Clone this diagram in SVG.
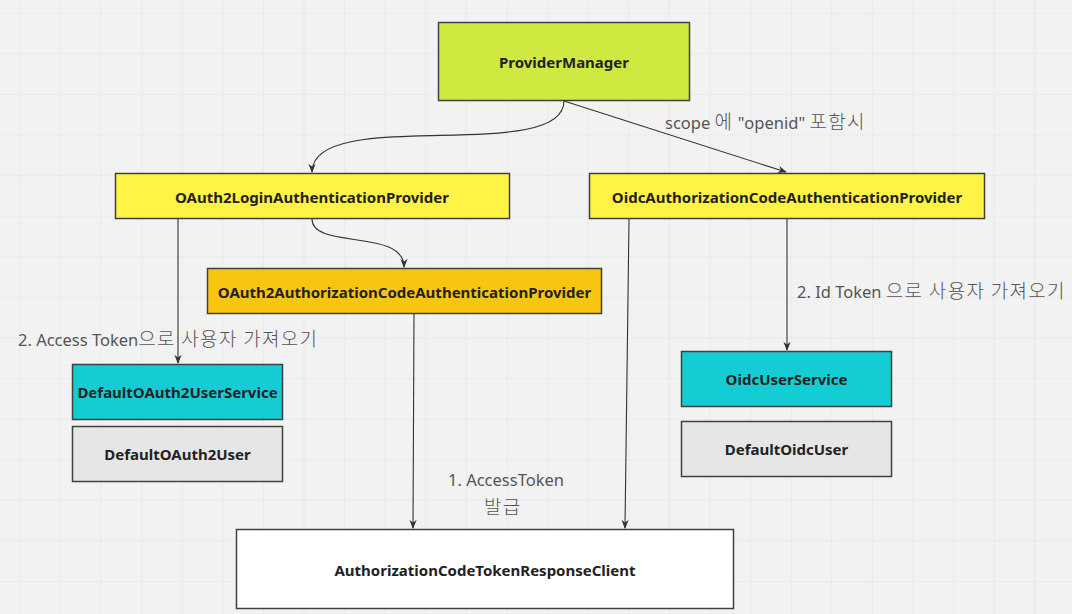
<svg xmlns="http://www.w3.org/2000/svg" width="1072" height="614" viewBox="0 0 1072 614">
<defs>
<pattern id="grid" x="19.3" y="12.7" width="40.6" height="40.6" patternUnits="userSpaceOnUse">
<path d="M0,0 H40.6 M0,0 V40.6" fill="none" stroke="#e4e4e4" stroke-width="1.2"/>
</pattern>
<marker id="arr" viewBox="0 0 10 10" refX="9" refY="5" markerWidth="9" markerHeight="9" markerUnits="userSpaceOnUse" orient="auto">
<path d="M0,1 L10,5 L0,9 L3,5 Z" fill="#333"/>
</marker>
<style>
.box{stroke:#404040;stroke-width:1.5}
.t{font-family:"Noto Sans","Open Sans",sans-serif;font-weight:bold;font-size:15px;fill:#222;text-anchor:middle;dominant-baseline:central}
.lbl{font-family:"Noto Sans","Noto Sans CJK KR",sans-serif;font-size:16.5px;fill:#555}
.k{font-family:"Noto Sans CJK KR",sans-serif;font-size:19px;font-weight:300;letter-spacing:1.3px}
.c{fill:none;stroke:#333;stroke-width:1.1;marker-end:url(#arr)}
</style>
</defs>
<rect width="1072" height="614" fill="#f2f2f2"/>
<rect width="1072" height="614" fill="url(#grid)"/>

<g id="connectors">
<path class="c" d="M564,101 C564,165 312,105 312,172"/>
<path class="c" d="M564,101 L786,172"/>
<path class="c" d="M312,219 C312,250 404,228 404,267"/>
<path class="c" d="M178,219 L178,363"/>
<path class="c" d="M414,314 L413,528"/>
<path class="c" d="M629,219 L625,528"/>
<path class="c" d="M787,219 L787,350"/>
</g>

<g id="labels">
<text class="lbl" x="665" y="129">scope <tspan class="k">에</tspan> "openid" <tspan class="k">포함시</tspan></text>
<text class="lbl" x="18" y="346">2. Access Token<tspan class="k">으로 사용자 가져오기</tspan></text>
<text class="lbl" x="797" y="298">2. Id Token <tspan class="k">으로 사용자 가져오기</tspan></text>
<text class="lbl" x="448" y="486">1. AccessToken</text>
<text class="lbl" x="484" y="514"><tspan class="k">발급</tspan></text>
</g>

<g id="ProviderManager">
<rect class="box" x="438.5" y="22.5" width="251" height="78" fill="#d0e940"/>
<text class="t" x="564" y="61.5">ProviderManager</text>
</g>
<g id="OAuth2LoginAuthenticationProvider">
<rect class="box" x="115.5" y="173.5" width="394" height="45" fill="#fff345"/>
<text class="t" x="312" y="196.5">OAuth2LoginAuthenticationProvider</text>
</g>
<g id="OidcAuthorizationCodeAuthenticationProvider">
<rect class="box" x="589.5" y="173.5" width="395" height="45" fill="#fff345"/>
<text class="t" x="787" y="196.5">OidcAuthorizationCodeAuthenticationProvider</text>
</g>
<g id="OAuth2AuthorizationCodeAuthenticationProvider">
<rect class="box" x="207.5" y="268.5" width="394" height="45" fill="#f9c513"/>
<text class="t" x="404.5" y="291.5">OAuth2AuthorizationCodeAuthenticationProvider</text>
</g>
<g id="DefaultOAuth2UserService">
<rect class="box" x="72.5" y="364.5" width="210" height="55" fill="#14cdd4"/>
<text class="t" x="177.5" y="392">DefaultOAuth2UserService</text>
</g>
<g id="DefaultOAuth2User">
<rect class="box" x="72.5" y="426.5" width="210" height="55" fill="#e6e6e6"/>
<text class="t" x="177.5" y="454">DefaultOAuth2User</text>
</g>
<g id="OidcUserService">
<rect class="box" x="681.5" y="351.5" width="210" height="55" fill="#14cdd4"/>
<text class="t" x="786.5" y="379">OidcUserService</text>
</g>
<g id="DefaultOidcUser">
<rect class="box" x="681.5" y="421.5" width="210" height="55" fill="#e6e6e6"/>
<text class="t" x="786.5" y="449">DefaultOidcUser</text>
</g>
<g id="AuthorizationCodeTokenResponseClient">
<rect class="box" x="236.5" y="529.5" width="497" height="79" fill="#ffffff"/>
<text class="t" x="485" y="569.5">AuthorizationCodeTokenResponseClient</text>
</g>
</svg>
